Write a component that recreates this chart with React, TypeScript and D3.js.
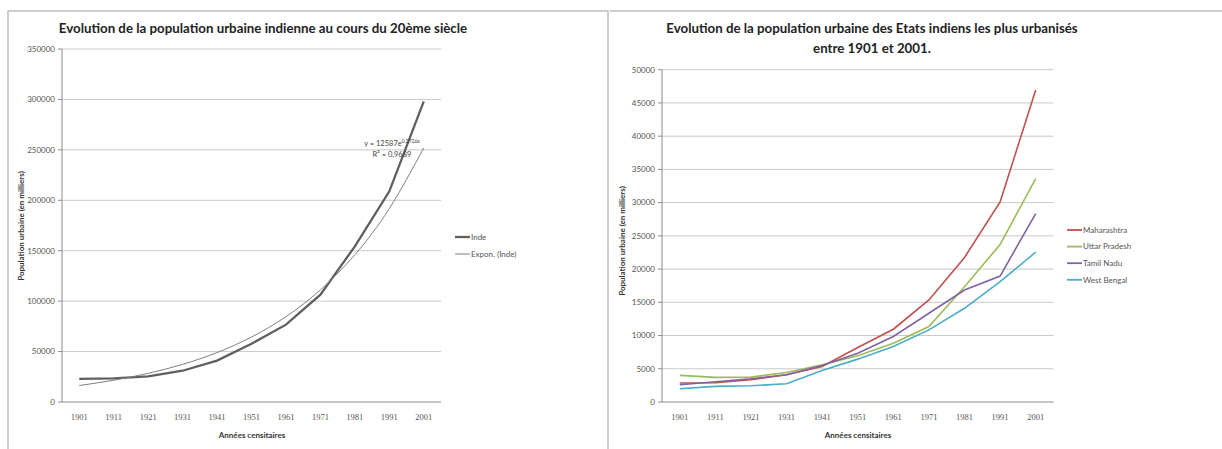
import React from 'react';
import * as d3 from 'd3';

const years = ['1901', '1911', '1921', '1931', '1941', '1951', '1961', '1971', '1981', '1991', '2001'];

// Inde, population urbaine (en milliers)
const inde = [23000, 23500, 25400, 31000, 41000, 57800, 76700, 106400, 154300, 208900, 298000];
// Courbe de tendance exponentielle
const indeTrend = [16300, 21600, 28400, 37300, 49000, 64400, 84600, 111200, 146000, 191800, 252000];
const leftTicks = [0, 50000, 100000, 150000, 200000, 250000, 300000, 350000];

const states = ['Maharashtra', 'Uttar Pradesh', 'Tamil Nadu', 'West Bengal'];
const maharashtra = [2850, 2900, 3350, 4100, 5350, 8200, 10950, 15350, 21750, 30100, 46950];
const uttarPradesh = [4000, 3700, 3750, 4450, 5600, 6950, 8850, 11350, 17350, 23700, 33600];
const tamilNadu = [2600, 3050, 3500, 4100, 5500, 7350, 9850, 13350, 16850, 18950, 28350];
const westBengal = [2000, 2350, 2450, 2750, 4750, 6450, 8350, 10850, 14100, 18100, 22550];
const rightTicks = [0, 5000, 10000, 15000, 20000, 25000, 30000, 35000, 40000, 45000, 50000];
const stateColors = ['#C0504D', '#9BBB59', '#8064A2', '#4BACC6'];

const FONT = 'Lato, "Open Sans", sans-serif';
const GRID = '#c9c9c9';
const AXIS = '#8c8c8c';
const TXT = '#555';

type Series = { name: string; values: number[]; color: string; width: number; curve?: d3.CurveFactory };

function Panel(props: {
  left: number; right: number; top: number; bottom: number;
  ticks: number[]; series: Series[]; ylabelY: number; xlabelX: number; ylabelX: number;
}) {
  const { left, right, top, bottom, ticks, series } = props;
  const x = d3.scalePoint<string>().domain(years).range([left, right]).padding(0.5);
  const y = d3.scaleLinear().domain([0, ticks[ticks.length - 1]]).range([bottom, top]);
  return (
    <g>
      {ticks.map(t => (
        <g key={t}>
          {t > 0 && <line x1={left} x2={right} y1={y(t)} y2={y(t)} stroke={GRID} strokeWidth={1} />}
          <line x1={left - 4} x2={left} y1={y(t)} y2={y(t)} stroke={AXIS} />
          <text x={left - 7} y={y(t)} dy="0.35em" textAnchor="end" fontFamily={FONT} fontSize={8} fill={TXT}>{t}</text>
        </g>
      ))}
      <line x1={left} x2={left} y1={top} y2={bottom} stroke={AXIS} />
      <line x1={left} x2={right} y1={bottom} y2={bottom} stroke={AXIS} />
      {years.map(yr => (
        <text key={yr} x={x(yr)} y={bottom + 18} textAnchor="middle" fontFamily='"Liberation Serif", serif' fontSize={8.5} fill={TXT}>{yr}</text>
      ))}
      {series.map(s => {
        const line = d3.line<number>().x((_, i) => x(years[i])!).y(v => y(v)).curve(s.curve || d3.curveLinear);
        return <path key={s.name} d={line(s.values)!} fill="none" stroke={s.color} strokeWidth={s.width} />;
      })}
      <text x={props.xlabelX} y={bottom + 36} textAnchor="middle" fontFamily={FONT} fontSize={8} fontWeight="bold" fill="#333">Années censitaires</text>
      <text transform={`translate(${props.ylabelX},${props.ylabelY}) rotate(-90)`} textAnchor="middle" fontFamily={FONT} fontSize={8} fontWeight="bold" fill="#333">Population urbaine (en milliers)</text>
    </g>
  );
}

export default function App() {
  const leftSeries: Series[] = [
    { name: 'Inde', values: inde, color: '#5f5f5f', width: 2.3 },
    { name: 'Expon. (Inde)', values: indeTrend, color: '#7f7f7f', width: 1, curve: d3.curveNatural },
  ];
  const rightSeries: Series[] = [maharashtra, uttarPradesh, tamilNadu, westBengal].map((v, i) => ({
    name: states[i], values: v, color: stateColors[i], width: 1.6,
  }));
  return (
    <svg width={1222} height={449} style={{ position: 'absolute', left: 0, top: 0, background: '#fff' }}>
      <rect x={0} y={0} width={1222} height={449} fill="#fff" />
      {/* cadres */}
      <path d="M8,449 V11 H608 V449" fill="none" stroke="#bdbdbd" strokeWidth={1.5} />
      <line x1={610} x2={1222} y1={11} y2={11} stroke="#bdbdbd" strokeWidth={1.5} />

      <text x={263} y={33} textAnchor="middle" fontFamily={FONT} fontSize={13.3} fontWeight="bold" fill="#222">
        Evolution de la population urbaine indienne au cours du 20ème siècle
      </text>
      <Panel left={62} right={441} top={49} bottom={402} ticks={leftTicks} series={leftSeries}
        ylabelX={24} ylabelY={226} xlabelX={252} />
      <text x={392} y={146} textAnchor="middle" fontFamily={FONT} fontSize={7.5} fill="#444">
        y = 12587e<tspan fontSize={5} dy={-3}>0,2726x</tspan>
      </text>
      <text x={392} y={157} textAnchor="middle" fontFamily={FONT} fontSize={7.5} fill="#444">R² = 0,9689</text>
      <line x1={455} x2={470} y1={237} y2={237} stroke="#5f5f5f" strokeWidth={2.3} />
      <text x={471} y={237} dy="0.35em" fontFamily={FONT} fontSize={8} fill={TXT}>Inde</text>
      <line x1={455} x2={470} y1={254} y2={254} stroke="#7f7f7f" strokeWidth={1} />
      <text x={471} y={254} dy="0.35em" fontFamily={FONT} fontSize={8} fill={TXT}>Expon. (Inde)</text>

      <text x={872} y={33} textAnchor="middle" fontFamily={FONT} fontSize={13.3} fontWeight="bold" fill="#222">
        Evolution de la population urbaine des Etats indiens les plus urbanisés
      </text>
      <text x={872} y={53} textAnchor="middle" fontFamily={FONT} fontSize={13.3} fontWeight="bold" fill="#222">entre 1901 et 2001.</text>
      <Panel left={662} right={1053.5} top={69.7} bottom={402} ticks={rightTicks} series={rightSeries}
        ylabelX={625} ylabelY={241} xlabelX={858} />
      {states.map((s, i) => (
        <g key={s}>
          <line x1={1067} x2={1082} y1={230 + i * 16.6} y2={230 + i * 16.6} stroke={stateColors[i]} strokeWidth={1.8} />
          <text x={1083} y={230 + i * 16.6} dy="0.35em" fontFamily={FONT} fontSize={8} fill={TXT}>{s}</text>
        </g>
      ))}
    </svg>
  );
}
